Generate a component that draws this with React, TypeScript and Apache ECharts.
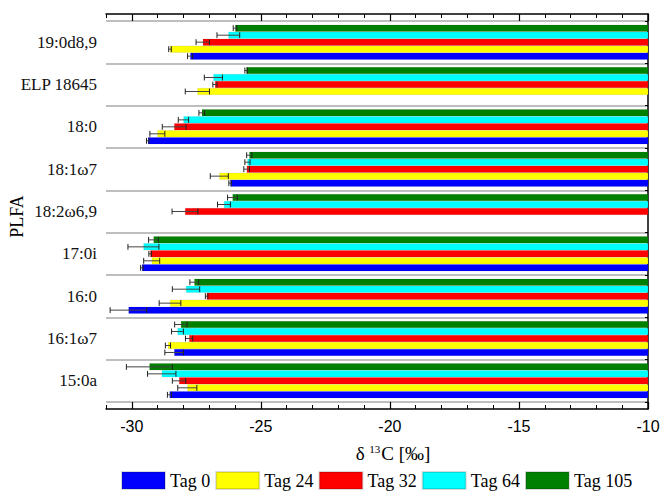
import React, { useEffect, useRef } from "react";
import * as echarts from "echarts";

const categories = ["19:0d8,9", "ELP 18645", "18:0", "18:1ω7", "18:2ω6,9", "17:0i", "16:0", "16:1ω7", "15:0a"];
const seriesNames = ["Tag 0", "Tag 24", "Tag 32", "Tag 64", "Tag 105"];
const seriesColors = ["#0000ff", "#ffff00", "#ff0000", "#00ffff", "#008000"];

const tag0 = [-27.74, null, -29.38, -26.19, null, -29.61, -30.13, -28.36, -28.54];
const tag0Err = [0.1, null, 0.05, 0.05, null, 0.05, 0.71, 0.36, 0.08];
const tag24 = [-28.52, -27.46, -29.01, -26.61, null, -29.23, -28.52, -28.6, -27.85];
const tag24Err = [0.05, 0.47, 0.29, 0.35, null, 0.31, 0.42, 0.1, 0.37];
const tag32 = [-27.25, -26.78, -28.36, -25.55, -27.94, -29.29, -27.1, -27.78, -28.17];
const tag32Err = [0.26, 0.08, 0.46, 0.11, 0.5, 0.05, 0.05, 0.14, 0.26];
const tag64 = [-26.26, -26.84, -28.0, -25.52, -26.43, -29.55, -27.9, -28.23, -28.84];
const tag64Err = [0.44, 0.35, 0.2, 0.1, 0.25, 0.6, 0.53, 0.23, 0.55];
const tag105 = [-26.0, -25.57, -27.29, -25.45, -26.1, -29.16, -27.58, -28.1, -29.32];
const tag105Err = [0.07, 0.05, 0.11, 0.1, 0.19, 0.19, 0.17, 0.24, 0.89];

const tickLabels = [-30, -25, -20, -15, -10];
const minorTickValues = [-31, -29, -28, -27, -26, -24, -23, -22, -21, -19, -18, -17, -16, -14, -13, -12, -11];
const rightTickValues = [0, 1, 2, 3, 4, 5, 6, 7, 8, 9, 10, 11, 12, 13, 14, 15, 16, 17, 18];

const allValues = [tag0, tag24, tag32, tag64, tag105];
const allErrors = [tag0Err, tag24Err, tag32Err, tag64Err, tag105Err];

const X_MIN = -31;
const X_MAX = -10;
const GAP = 0.175;
const SERIF = "Liberation Serif";
const SANS = "Liberation Sans";

export default function App() {
  const ref = useRef<HTMLDivElement>(null);
  useEffect(() => {
    if (!ref.current) return;
    const chart = echarts.init(ref.current, null, { renderer: "svg" });
    const gridOuter = { left: 106, right: 12, top: 14, bottom: 82, containLabel: false, outerBoundsMode: "none" };
    const gridInner = { left: 106, right: 12, top: 21, bottom: 89, containLabel: false, outerBoundsMode: "none" };

    // bars listed top-to-bottom inside each group (inverse category axis puts first series on top)
    const barOrder = [4, 3, 2, 1, 0];
    const barSeries = barOrder.map((s) => ({
      type: "bar",
      name: seriesNames[s],
      xAxisIndex: 4,
      yAxisIndex: 2,
      data: allValues[s],
      barGap: "0%",
      barCategoryGap: GAP * 100 + "%",
      itemStyle: { color: seriesColors[s], borderColor: "rgba(0,0,0,0.15)", borderWidth: 0.5 },
      clip: true,
      z: 2,
    }));

    const errSeries = seriesNames.map((name, s) => {
      const k = 4 - s;
      const data: number[][] = [];
      allValues[s].forEach((v, i) => {
        if (v != null && allErrors[s][i] != null) data.push([v as number, i, allErrors[s][i] as number]);
      });
      return {
        type: "custom",
        name: name + " err",
        xAxisIndex: 4,
        yAxisIndex: 2,
        data,
        z: 5,
        encode: { x: 0, y: 1 },
        renderItem: (params: any, api: any) => {
          const v = api.value(0);
          const c = api.value(1);
          const e = api.value(2);
          const center = api.coord([v, c]);
          const band = api.size([0, 1])[1];
          const bw = (band * (1 - GAP)) / 5;
          const y = center[1] + (k - 2) * bw;
          const x1 = api.coord([v - e, c])[0];
          const x2 = api.coord([v + e, c])[0];
          const h = bw * 0.42;
          const st = { stroke: "#222", lineWidth: 1 };
          return {
            type: "group",
            children: [
              { type: "line", shape: { x1, y1: y, x2, y2: y }, style: { stroke: "#444", lineWidth: 1 } },
              { type: "line", shape: { x1, y1: y - h, x2: x1, y2: y + h }, style: st },
              { type: "line", shape: { x1: x2, y1: y - h, x2, y2: y + h }, style: st },
            ],
          };
        },
      };
    });

    const majorAxis = (position: string, showLabel: boolean) => ({
      type: "value",
      gridIndex: 0,
      position,
      min: X_MIN,
      max: X_MAX,
      axisLine: { show: true, onZero: false, lineStyle: { color: "#000", width: 1.5 } },
      axisTick: { show: true, inside: true, length: 7, customValues: tickLabels, lineStyle: { color: "#000", width: 1.2 } },
      axisLabel: {
        show: showLabel,
        customValues: tickLabels,
        fontFamily: SANS,
        fontSize: 16,
        color: "#000",
        margin: 9,
      },
      splitLine: { show: false },
      ...(showLabel
        ? {
            name: "{a|δ }{s|13}{a|C [‰]}",
            nameLocation: "middle",
            nameGap: 34,
            nameMoveOverlap: false,
            nameTextStyle: {
              padding: [0, 0, 0, 32],
              rich: {
                a: { fontFamily: SERIF, fontSize: 19, color: "#000" },
                s: { fontFamily: SERIF, fontSize: 11, color: "#000", padding: [0, 1, 9, 0] },
              },
            },
          }
        : {}),
    });

    const minorAxis = (position: string) => ({
      type: "value",
      gridIndex: 1,
      position,
      min: X_MIN,
      max: X_MAX,
      axisLine: { show: false, onZero: false },
      axisTick: { show: true, inside: true, length: 4, customValues: minorTickValues, lineStyle: { color: "#000", width: 1 } },
      axisLabel: { show: false },
      splitLine: { show: false },
    });

    chart.setOption({
      animation: false,
      backgroundColor: "#fff",
      grid: [gridOuter, gridOuter, gridInner],
      legend: {
        data: seriesNames,
        left: 121,
        top: 471,
        padding: 0,
        itemWidth: 43,
        itemHeight: 17,
        itemGap: 5,
        icon: "rect",
        textStyle: { fontFamily: SERIF, fontSize: 18, color: "#000" },
        selectedMode: false,
      },
      xAxis: [
        majorAxis("bottom", true),
        majorAxis("top", false),
        minorAxis("bottom"),
        minorAxis("top"),
        {
          type: "value",
          gridIndex: 2,
          min: X_MIN,
          max: X_MAX,
          show: false,
        },
      ],
      yAxis: [
        {
          type: "value",
          gridIndex: 0,
          position: "right",
          min: 0,
          max: 1,
          axisLine: { show: true, onZero: false, lineStyle: { color: "#000", width: 1.5 } },
          axisTick: { show: false },
          axisLabel: { show: false },
          splitLine: { show: false },
        },
        { type: "value", gridIndex: 1, show: false },
        {
          type: "category",
          gridIndex: 2,
          data: categories,
          inverse: true,
          position: "left",
          axisLine: { show: false },
          axisTick: { show: false },
          axisLabel: { fontFamily: SERIF, fontSize: 17, color: "#111", margin: 9 },
          splitLine: { show: true, lineStyle: { color: "#a8a8a8", width: 1.5 } },
          name: "PLFA",
          nameLocation: "middle",
          nameGap: 80,
          nameMoveOverlap: false,
          nameTextStyle: { fontFamily: SERIF, fontSize: 18, color: "#000", padding: [0, 10, 0, 0] },
        },
        {
          type: "value",
          gridIndex: 2,
          position: "right",
          min: 0,
          max: 18,
          axisLine: { show: false },
          axisTick: { show: true, inside: true, length: 3, customValues: rightTickValues, lineStyle: { color: "#000", width: 1 } },
          axisLabel: { show: false },
          splitLine: { show: false },
        },
      ],
      series: [...barSeries, ...errSeries],
    });
    return () => chart.dispose();
  }, []);
  return <div ref={ref} style={{ position: "fixed", left: 0, top: 0, width: 660, height: 491 }} />;
}
